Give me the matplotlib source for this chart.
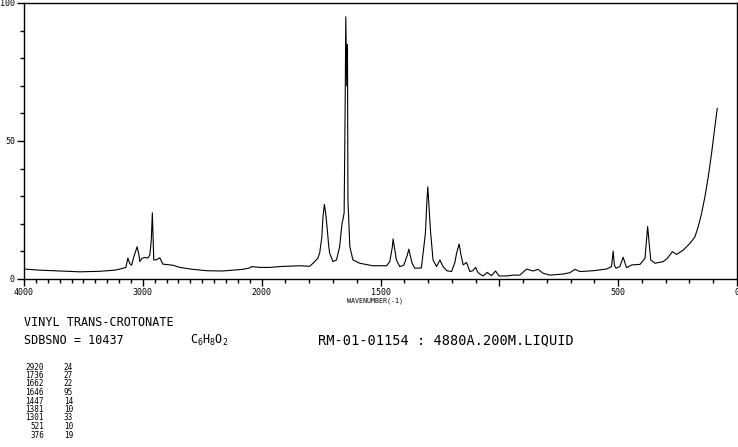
import numpy as np
import matplotlib
matplotlib.use("Agg")
import matplotlib.pyplot as plt

plt.rcParams['font.family'] = ['DejaVu Sans Mono']

# spectrum (wavenumber cm-1, intensity)
wavenumber = [4000, 3866, 3697, 3529, 3361, 3235, 3193, 3143, 3126, 3109, 3095, 3076,
              3048, 3034, 3025, 3008, 2983, 2958, 2941, 2929, 2920, 2913, 2908, 2882,
              2857, 2832, 2790, 2748, 2689, 2580, 2462, 2328, 2160, 2101, 2084, 2017,
              1966, 1924, 1840, 1798, 1784, 1764, 1756, 1747, 1742, 1736, 1731, 1725,
              1718, 1714, 1700, 1685, 1672, 1662, 1657, 1653, 1649, 1646, 1642, 1639,
              1637, 1629, 1616, 1587, 1533, 1474, 1461, 1450, 1447, 1433, 1419, 1402,
              1387, 1381, 1367, 1356, 1328, 1311, 1305, 1301, 1295, 1290, 1279, 1264,
              1250, 1237, 1221, 1201, 1187, 1180, 1169, 1162, 1152, 1138, 1124, 1112,
              1100, 1091, 1082, 1068, 1051, 1033, 1016, 1001, 970, 942, 914, 885,
              858, 837, 816, 787, 731, 703, 682, 661, 605, 549, 528, 521,
              516, 509, 493, 479, 465, 443, 408, 387, 376, 363, 345, 310,
              293, 272, 254, 226, 198, 177, 163, 149, 135, 121, 107, 93, 83]
intensity = [3.6, 3.2, 2.9, 2.6, 2.8, 3.2, 3.6, 4.2, 7.6, 5.5, 5.0, 8.0,
             11.7, 9.0, 6.3, 7.5, 7.8, 7.6, 8.7, 14.0, 24.0, 14.0, 6.9, 7.0,
             7.7, 5.4, 5.2, 5.0, 4.2, 3.5, 3.0, 2.9, 3.5, 4.0, 4.5, 4.2,
             4.2, 4.5, 4.8, 4.6, 5.7, 7.5, 9.4, 15.0, 22.6, 27.0, 24.0, 19.0,
             12.0, 9.4, 6.3, 6.9, 11.7, 20.0, 22.0, 24.0, 60.0, 95.0, 70.0, 85.0,
             28.6, 11.7, 6.9, 5.7, 4.8, 4.8, 6.3, 11.7, 14.5, 6.9, 4.5, 5.0,
             8.7, 10.8, 5.7, 3.9, 4.0, 16.6, 28.0, 33.4, 25.0, 17.8, 6.9, 4.5,
             6.9, 4.5, 3.0, 2.7, 6.0, 9.3, 12.7, 9.0, 5.1, 6.0, 2.7, 3.0,
             4.2, 2.5, 1.8, 1.1, 2.4, 1.2, 2.9, 1.1, 1.1, 1.4, 1.4, 3.6,
             2.9, 3.5, 2.1, 1.4, 1.8, 2.3, 3.5, 2.7, 3.0, 3.6, 4.5, 10.1,
             5.0, 3.9, 4.5, 7.9, 4.1, 5.1, 5.3, 7.5, 19.0, 6.9, 5.7, 6.3,
             7.5, 9.9, 8.9, 10.5, 12.9, 15.3, 19.0, 23.8, 29.8, 37.0, 45.5, 55.2, 61.8]

peak_wn = ['2920', '1736', '1662', '1646', '1447', '1381', '1301', '521', '376']
peak_int = ['24', '27', '22', '95', '14', '10', '33', '10', '19']

xticks = [4000, 3000, 2000, 1500, 1000, 500, 0]
xticklabels = ['4000', '3000', '2000', '1500', '', '500', '0']


# scale halves above 2000 cm-1
def fwd(x):
    x = np.asarray(x, dtype=float)
    return np.where(x >= 2000, x, 2 * x - 2000)


def inv(y):
    y = np.asarray(y, dtype=float)
    return np.where(y >= 2000, y, (y + 2000) / 2)


W, H = 738, 447
fig = plt.figure(figsize=(W / 100, H / 100), dpi=100)
ax = fig.add_axes([24 / W, (H - 279) / H, (737 - 24) / W, (279 - 3) / H])

ax.plot(wavenumber, intensity, color='black', lw=0.8)

ax.set_xscale('function', functions=(fwd, inv))
ax.set_xlim(4000, 0)
ax.set_ylim(0, 100)

ax.set_xticks(xticks)
ax.set_xticklabels(xticklabels)
ax.set_xticks(np.arange(0, 4001, 100), minor=True)
ax.set_yticks([0, 50, 100])
ax.set_yticks(np.arange(0, 101, 10), minor=True)

ax.tick_params(which='major', direction='out', length=5, width=1, labelsize=6, pad=1.5)
ax.tick_params(which='minor', direction='out', length=3, width=1)
for s in ax.spines.values():
    s.set_linewidth(1.0)

fig.text(375 / W, 1 - 301 / H, 'WAVENUMBER(-1)', fontsize=4.8, ha='center', va='center')

fig.text(24 / W, 1 - 323 / H, 'VINYL TRANS-CROTONATE', fontsize=8.5, ha='left', va='center')
fig.text(24 / W, 1 - 340 / H, 'SDBSNO = 10437', fontsize=8.5, ha='left', va='center')
fig.text(190 / W, 1 - 340 / H, r'$\mathregular{C_6H_8O_2}$', fontsize=8.5, ha='left', va='center')
fig.text(318 / W, 1 - 340 / H, 'RM-01-01154 : 4880A.200M.LIQUID', fontsize=9.8,
         ha='left', va='center')

for i, (w, v) in enumerate(zip(peak_wn, peak_int)):
    yy = 1 - (367 + i * 8.5) / H
    fig.text(44 / W, yy, w, fontsize=5.5, ha='right', va='center')
    fig.text(73 / W, yy, v, fontsize=5.5, ha='right', va='center')

fig.savefig('out.png', dpi=100)
